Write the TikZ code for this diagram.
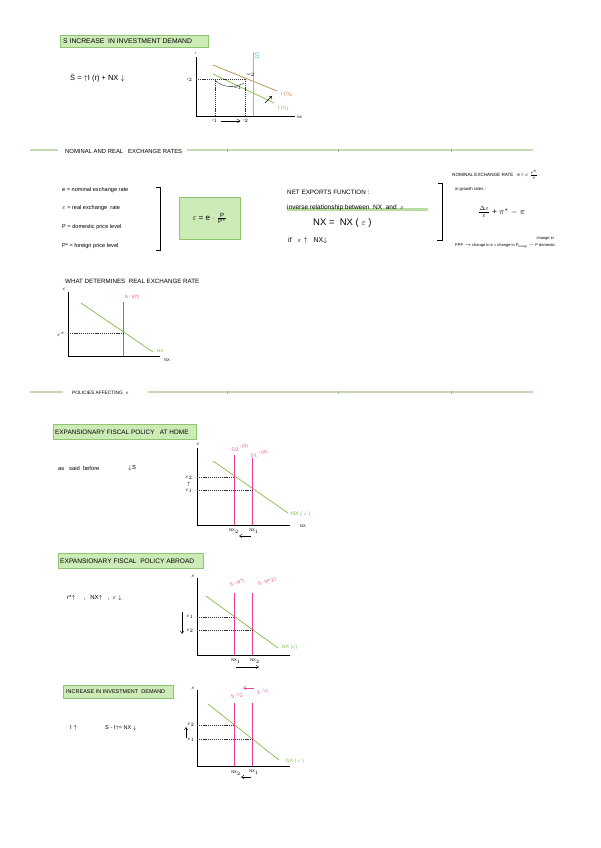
\documentclass[tikz,border=0pt]{standalone}
\usepackage{fontspec}
\setmainfont{Liberation Sans}
\usetikzlibrary{arrows.meta}
\definecolor{boxfill}{HTML}{CDEBB7}
\definecolor{boxedge}{HTML}{8DC66E}
\definecolor{divg}{HTML}{C5DAB4}
\definecolor{divt}{HTML}{9DB98A}
\definecolor{nxg}{HTML}{7DBF45}
\definecolor{spink}{HTML}{E8408E}
\definecolor{brn}{HTML}{B88C4A}
\definecolor{sblue}{HTML}{6CC4EA}
\definecolor{hl}{HTML}{B9DDA0}
\newcommand{\fs}[1]{\fontsize{#1}{#1}\selectfont}
\tikzset{
  t/.style={inner sep=0pt, font=\fs{5}},
  tl/.style={t, anchor=west},
  gbox/.style={draw=boxedge, fill=boxfill, line width=0.9pt, anchor=north west, inner sep=0pt},
  ax/.style={line width=0.5pt},
  dl/.style={black!80, line width=0.3pt, dash pattern=on 1.2pt off 0.9pt},
  nxl/.style={nxg, line width=0.7pt},
  spl/.style={spink, line width=1pt},
  dv/.style={divg, line width=1.6pt},
  arr/.style={-{Straight Barb[length=2.6pt,width=3.4pt]}, line width=0.45pt},
}
\begin{document}
\begin{tikzpicture}[x=1pt,y=-1pt]
\useasboundingbox[fill=white] (0,0) rectangle (600,848);

% ---------- Section 1 ----------
\node[gbox, minimum width=148pt, minimum height=12pt] (box1) at (60,35) {};
\node[tl, font=\fs{6.8}] (box1t) at ([xshift=3pt]box1.west) {S INCREASE\ \ IN INVESTMENT DEMAND};
\node[tl, font=\fs{7.5}] (eq1) at (70,78) {$\bar{\mathrm{S}}$ = $\uparrow$I (r) + NX $\downarrow$};

\coordinate (g1o) at (196,116);
\draw[ax] (196,57) -- (g1o) -- (295,116);
\node[t, font=\fs{3.5}] (g1r) at (196,54) {r};
\node[tl, font=\fs{3.5}] (g1x) at (297,117) {NX};
\draw[brn, line width=0.7pt] (213,65) -- (277,91);
\draw[nxl] (213,74) -- (274,103);
\draw[sblue, line width=0.8pt] (253,52) -- (253,116);
\node[t, sblue, font=\fs{8}] (g1s) at (257,56) {S};
\draw[dl] (196,79) -- (245,79);
\draw[dl] (215,79) -- (215,116);
\draw[dl] (245,79) -- (245,116);
\node[t, font=\fs{3.5}] (g1rl) at (190,80) {r$_2$};
\node[tl, brn, font=\fs{5}] (g1b) at (281,94) {I (r)$_2$};
\node[tl, nxg, font=\fs{5}] (g1g) at (278,108) {I (r)$_1$};
\coordinate (g1a) at (265,103);
\coordinate (g1b2) at (272,96);
\draw[arr] (g1a) -- (g1b2);
\node[t, font=\fs{3.5}] (g1i1) at (215,121) {I$_1$};
\node[t, font=\fs{3.5}] (g1i2) at (246,121) {I$_2$};
\draw[arr] ([xshift=3pt]g1i1.east) -- ([xshift=-3pt]g1i2.west);
\draw[line width=0.3pt] (215,80) .. controls (222,88) and (235,88) .. (244,83);
\node[t, font=\fs{2.5}] (g1n2) at (251,75) {NX$_2$};
\node[t, font=\fs{2.5}] (g1n1) at (238,88) {NX$_1$};

% ---------- Divider 1 ----------
\draw[dv] (30,150) -- (58,150);
\node[tl, font=\fs{5.9}] (div1) at (65,151) {NOMINAL AND REAL\ \ \ EXCHANGE RATES};
\draw[dv] (187,150) -- (533,150);
\foreach \xx in {227,338,451} \draw[divt, line width=0.4pt] (\xx,148.5) -- (\xx,151.5);

% ---------- Section 2 ----------
\node[tl, font=\fs{5.6}] (l1) at (62,190) {e = nominal exchange rate};
\node[tl, font=\fs{5.6}] (l2) at (62,208) {$\varepsilon$ = real exchange\ \ rate};
\node[tl, font=\fs{5.6}] (l3) at (62,227) {P = domestic price level};
\node[tl, font=\fs{5.6}] (l4) at (62,246) {P* = foreign price level};
\draw[line width=0.5pt] (156,187) -- (160,187) -- (160,250) -- (156,250);

\node[gbox, minimum width=61pt, minimum height=42pt] (box2) at (179,197) {};
\node[t, font=\fs{8}] (box2t) at (box2.center) {$\varepsilon$\ =\ e $\cdot$ $\frac{\mathrm{P}}{\mathrm{P}^*}$};

\node[tl, font=\fs{6.3}] (nf) at (287,192) {NET EXPORTS FUNCTION :};
\fill[hl] (287,208) rectangle (428,211);
\node[tl, font=\fs{6.5}] (ir) at (287,208) {inverse relationship between\ \ NX\ \ and\ \ $\varepsilon$};
\node[tl, font=\fs{9.5}] (nxe) at (313,223) {NX =\ \ NX ( $\varepsilon$ )};
\node[tl, font=\fs{7}] (ifr) at (288,241) {if\ \ \ $\varepsilon\uparrow$\ \ \ NX$\downarrow$};
\draw[line width=0.5pt] (438,183) -- (442,183) -- (442,240) -- (437,240);

\node[tl, font=\fs{4.6}] (nom) at (452,175) {NOMINAL EXCHANGE RATE\ \ \ e = $\varepsilon$ $\frac{\mathrm{P}^*}{\mathrm{P}}$};
\node[tl, font=\fs{4.3}] (gr) at (455,189) {in growth rates :};
\node[tl, font=\fs{8}] (gre) at (478,212) {$\frac{\Delta\varepsilon}{\varepsilon}$ + $\pi^*$ $-$ $\pi$};
\node[tl, font=\fs{4}] (ppp) at (455,242) {PPP $\rightarrow$ change in e = change in P$_{\mathrm{foreign}}$ $-$ \shortstack{change in\\P domestic}};

% ---------- What determines ----------
\node[tl, font=\fs{6.2}] (wd) at (65,281) {WHAT DETERMINES\ \ REAL EXCHANGE RATE};
\draw[ax] (68,292) -- (68,356) -- (160,356);
\draw[line width=1pt] (102,356) -- (117,356);
\node[t, font=\fs{5.5}] (g2e) at (64,289) {$\varepsilon$};
\node[tl, font=\fs{4}] (g2x) at (164,360) {NX};
\draw[nxl] (81,303) -- (153,352);
\node[tl, nxg, font=\fs{4.5}] (g2nx) at (157,351) {NX};
\draw[spl] (123,302) -- (123,356);
\node[t, spink, font=\fs{4.5}] (g2s) at (132,297) {S - I(r*)};
\draw[dl] (68,333) -- (123,333);
\node[t, font=\fs{5}] (g2es) at (61,334) {$\varepsilon^*$};

% ---------- Divider 2 ----------
\draw[dv] (30,392) -- (63,392);
\node[tl, font=\fs{4.8}] (div2) at (72,393) {POLICIES AFFECTING\ \ $\varepsilon$};
\draw[dv] (148,392) -- (533,392);
\foreach \xx in {227,338,451} \draw[divt, line width=0.4pt] (\xx,390.5) -- (\xx,393.5);

% ---------- 3a ----------
\node[gbox, minimum width=143pt, minimum height=15pt] (box3) at (53,424) {};
\node[tl, font=\fs{6.4}] (box3t) at ([xshift=2pt]box3.west) {EXPANSIONARY FISCAL POLICY\ \ \ AT HOME};
\node[tl, font=\fs{5.8}] (sb) at (58,468) {as\ \ \ said\ \ before};
\node[tl, font=\fs{5.8}] (sb2) at (128,468) {$\downarrow$S};
\draw[ax] (197,448) -- (197,525) -- (290,525);
\node[t, font=\fs{5}] (g3e) at (198,444) {$\varepsilon$};
\node[tl, font=\fs{4}] (g3x) at (300,526) {NX};
\draw[nxl] (213,461) -- (288,513);
\node[tl, nxg, font=\fs{5.5}] (g3nx) at (291,514) {NX ( $\varepsilon$ )};
\draw[spl] (234,455) -- (234,525);
\draw[spl] (252,458) -- (252,525);
\node[t, spink, font=\fs{4.5}, rotate=15] (g3s2) at (240,448) {S$_2$ - I(r)};
\node[t, spink, font=\fs{4.5}, rotate=15] (g3s1) at (259,454) {S$_1$ - I(r)};
\draw[dl] (197,477) -- (234,477);
\draw[dl] (197,490) -- (252,490);
\node[t, font=\fs{4.5}] (g3e2) at (189,478) {$\varepsilon_2$};
\node[t, font=\fs{4.5}] (g3up) at (189,484) {$\uparrow$};
\node[t, font=\fs{4.5}] (g3e1) at (189,491) {$\varepsilon_1$};
\node[t, font=\fs{4}] (g3n2) at (234,531) {NX$_2$};
\node[t, font=\fs{4}] (g3n1) at (254,531) {NX$_1$};
\coordinate (g3a1) at (251,536);
\coordinate (g3a2) at (239,536);
\draw[arr] (g3a1) -- (g3a2);

% ---------- 3b ----------
\node[gbox, minimum width=145pt, minimum height=15pt] (box4) at (58,553) {};
\node[tl, font=\fs{6.6}] (box4t) at ([xshift=2pt]box4.west) {EXPANSIONARY FISCAL\ \ POLICY ABROAD};
\node[tl, font=\fs{6}] (rs) at (67,598) {r*$\uparrow$\ \ \ \ \ ,\ \ \ NX$\uparrow$\ \ \ ,\ \ $\varepsilon\downarrow$};
\draw[ax] (197,578) -- (197,655) -- (290,655);
\node[t, font=\fs{5.5}] (g4e) at (193,576) {$\varepsilon$};
\draw[nxl] (206,596) -- (278,648);
\node[tl, nxg, font=\fs{5}] (g4nx) at (282,647) {NX ($\varepsilon$)};
\draw[spl] (234,593) -- (234,655);
\draw[spl] (252,593) -- (252,655);
\node[t, spink, font=\fs{4.5}, rotate=20] (g4s1) at (237,583) {S - I(r*)};
\node[t, spink, font=\fs{4.5}, rotate=20] (g4s2) at (267,582) {S - I(r*$_2$)};
\draw[dl] (197,617) -- (234,617);
\draw[dl] (197,630) -- (252,630);
\node[t, font=\fs{4.5}] (g4e1) at (190,617) {$\varepsilon_1$};
\node[t, font=\fs{4.5}] (g4e2) at (190,631) {$\varepsilon_2$};
\coordinate (g4d1) at (182,612);
\coordinate (g4d2) at (182,634);
\draw[arr] (g4d1) -- (g4d2);
\node[t, font=\fs{4}] (g4n1) at (236,661) {NX$_1$};
\node[t, font=\fs{4}] (g4n2) at (255,661) {NX$_2$};
\coordinate (g4a1) at (236,667);
\coordinate (g4a2) at (259,667);
\draw[arr] (g4a1) -- (g4a2);

% ---------- 3c ----------
\node[gbox, minimum width=110pt, minimum height=13pt] (box5) at (63,685) {};
\node[tl, font=\fs{5.5}] (box5t) at ([xshift=3pt]box5.west) {INCREASE IN INVESTMENT\ \ DEMAND};
\node[tl, font=\fs{5.8}] (iu) at (70,728) {I $\uparrow$};
\node[tl, font=\fs{5.5}] (si) at (105,728) {S - I$\uparrow$= NX $\downarrow$};
\draw[ax] (197,690) -- (197,766) -- (290,766);
\node[t, font=\fs{5}] (g5e) at (193,688) {$\varepsilon$};
\draw[nxl] (208,704) -- (279,760);
\node[tl, nxg, font=\fs{5}] (g5nx) at (286,761) {NX ( $\varepsilon$ )};
\draw[spl] (234,703) -- (234,766);
\draw[spl] (252,703) -- (252,766);
\node[t, spink, font=\fs{4.5}, rotate=20] (g5s2) at (237,696) {S - I$_2$};
\node[t, spink, font=\fs{4.5}, rotate=20] (g5s1) at (263,692) {S - I$_1$};
\coordinate (g5t1) at (254,688);
\coordinate (g5t2) at (243,688);
\draw[arr, spink] (g5t1) -- (g5t2);
\draw[dl] (197,725) -- (234,725);
\draw[dl] (197,739) -- (252,739);
\node[t, font=\fs{4.5}] (g5e2) at (191,725) {$\varepsilon_2$};
\node[t, font=\fs{4.5}] (g5e1) at (191,740) {$\varepsilon_1$};
\coordinate (g5u1) at (186,738);
\coordinate (g5u2) at (186,727);
\draw[arr] (g5u1) -- (g5u2);
\node[t, font=\fs{4}] (g5n2) at (236,773) {NX$_2$};
\node[t, font=\fs{4}] (g5n1) at (254,772) {NX$_1$};
\coordinate (g5a1) at (251,777);
\coordinate (g5a2) at (241,777);
\draw[arr] (g5a1) -- (g5a2);
\end{tikzpicture}
\end{document}
